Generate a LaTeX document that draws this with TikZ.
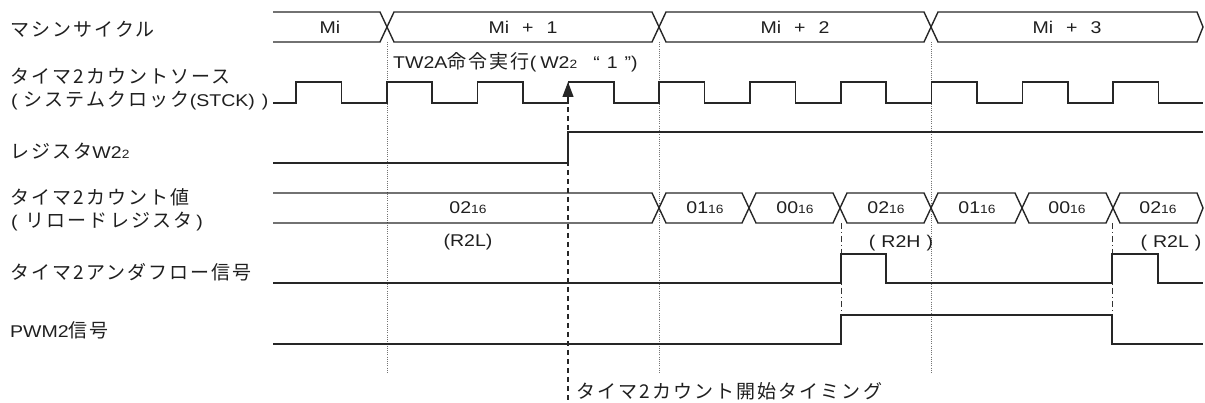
\documentclass[tikz,border=0pt]{standalone}
\usepackage{fontspec}
\setmainfont{Liberation Sans}[FakeStretch=1.15]
\newfontfamily\jpf{Noto Sans CJK JP}[LetterSpace=11]
\usetikzlibrary{arrows.meta}
\newcommand{\jp}[1]{{\jpf\fontsize{19}{22}\selectfont #1}}
\newcommand{\smallsub}[1]{{\fontsize{12}{12}\selectfont #1}}
\begin{document}
\begin{tikzpicture}[x=1pt,y=-1pt,
  txt/.style={font=\fontsize{17}{20}\selectfont, inner sep=0pt, text=black!88},
  lbl/.style={txt, anchor=west},
  sig/.style={line width=1.6pt, draw=black!85, line join=miter},
  bus/.style={line width=1.4pt, draw=black!85, line join=miter},
  guide/.style={line width=0.8pt, draw=black!55, dash pattern=on 1pt off 1.2pt},
  startline/.style={line width=1.2pt, draw=black!85, dash pattern=on 5pt off 4pt},
  dashdot/.style={line width=0.9pt, draw=black!80, dash pattern=on 6pt off 3pt on 1pt off 3pt}]
\useasboundingbox (0,0) rectangle (1205,403);

% left labels
\node[lbl] (lmc) at (10,29) {\jp{マシンサイクル}};
\node[lbl] (lsrc1) at (10,76) {\jp{タイマ2カウントソース}};
\node[lbl] (lsrc2) at (11,101) {(\hspace{6pt}\jp{システムクロック}(STCK)\hspace{7pt})};
\node[lbl] (lreg) at (10,151) {\jp{レジスタ}W2\smallsub{2}};
\node[lbl] (lcnt1) at (10,197) {\jp{タイマ2カウント値}};
\node[lbl] (lcnt2) at (11,222) {(\hspace{8pt}\jp{リロードレジスタ}\hspace{4pt})};
\node[lbl] (luf) at (10,272) {\jp{タイマ2アンダフロー信号}};
\node[lbl] (lpwm) at (10,330) {PWM2\jp{信号}};

% guide lines
\foreach \gx in {387,659,931} \draw[guide] (\gx,42) -- (\gx,373);

% machine cycle bus
\draw[bus] (273,12) -- (380,12) -- (394,42) -- (652,42) -- (666,12) -- (924,12) -- (938,42)
  -- (1197,42) -- (1203,27) -- (1197,12) -- (938,12) -- (924,42) -- (666,42) -- (652,12)
  -- (394,12) -- (380,42) -- (273,42);
\node[txt] (mi0) at (330,27) {Mi};
\node[txt] (mi1) at (523,27) {Mi\hspace{13pt}+\hspace{13pt}1};
\node[txt] (mi2) at (795,27) {Mi\hspace{13pt}+\hspace{13pt}2};
\node[txt] (mi3) at (1067,27) {Mi\hspace{13pt}+\hspace{13pt}3};

% clock
\draw[sig] (273,103)
  \foreach \k in {0,...,9} {
    -- ({296+90.8*\k},103) -- ({296+90.8*\k},82) -- ({341.4+90.8*\k},82) -- ({341.4+90.8*\k},103)
  } -- (1203,103);
\node[lbl] (tw2a) at (393,62) {TW2A\jp{命令実行}(\hspace{4pt}W2\smallsub{2}\hspace{16pt}“\hspace{7pt}1\hspace{7pt}”)};

% register W22
\draw[sig] (273,163) -- (568,163) -- (568,132) -- (1203,132);

% start timing
\coordinate (arrbase) at (568,98);
\coordinate (arrtip) at (568,82);
\coordinate (startend) at (568,403);
\draw[startline] (arrbase) -- (startend);
\draw[line width=1.2pt, draw=black!85, -{Triangle[length=15pt,width=11pt]}] (arrbase) -- (arrtip);
\node[lbl] (starttxt) at (576,391) {\jp{タイマ2カウント開始タイミング}};

% count value bus
\draw[bus] (273,193) -- (652,193) -- (666,223) -- (742,223) -- (756,193) -- (833,193) -- (847,223)
  -- (924,223) -- (938,193) -- (1015,193) -- (1029,223) -- (1106,223) -- (1120,193)
  -- (1197,193) -- (1203,208) -- (1197,223) -- (1120,223) -- (1106,193) -- (1029,193)
  -- (1015,223) -- (938,223) -- (924,193) -- (847,193) -- (833,223) -- (756,223) -- (742,193)
  -- (666,193) -- (652,223) -- (273,223);
\node[txt] (c0) at (468,208) {02\smallsub{16}};
\node[txt] (c1) at (705,208) {01\smallsub{16}};
\node[txt] (c2) at (795,208) {00\smallsub{16}};
\node[txt] (c3) at (886,208) {02\smallsub{16}};
\node[txt] (c4) at (977,208) {01\smallsub{16}};
\node[txt] (c5) at (1067,208) {00\smallsub{16}};
\node[txt] (c6) at (1158,208) {02\smallsub{16}};
\node[txt] (r2l0) at (468,242) {(R2L)};
\node[txt] (r2h) at (901,243) {(\hspace{6pt}R2H\hspace{6pt})};
\node[txt] (r2l1) at (1171,243) {(\hspace{6pt}R2L\hspace{6pt})};

% dash-dot markers
\draw[dashdot] (841,223) -- (841,315);
\draw[dashdot] (1112,223) -- (1112,315);

% underflow
\draw[sig] (273,283) -- (841,283) -- (841,254) -- (886,254) -- (886,283) -- (1112,283)
  -- (1112,254) -- (1158,254) -- (1158,283) -- (1203,283);

% PWM2
\draw[sig] (273,344) -- (841,344) -- (841,315) -- (1112,315) -- (1112,344) -- (1203,344);
\end{tikzpicture}
\end{document}
